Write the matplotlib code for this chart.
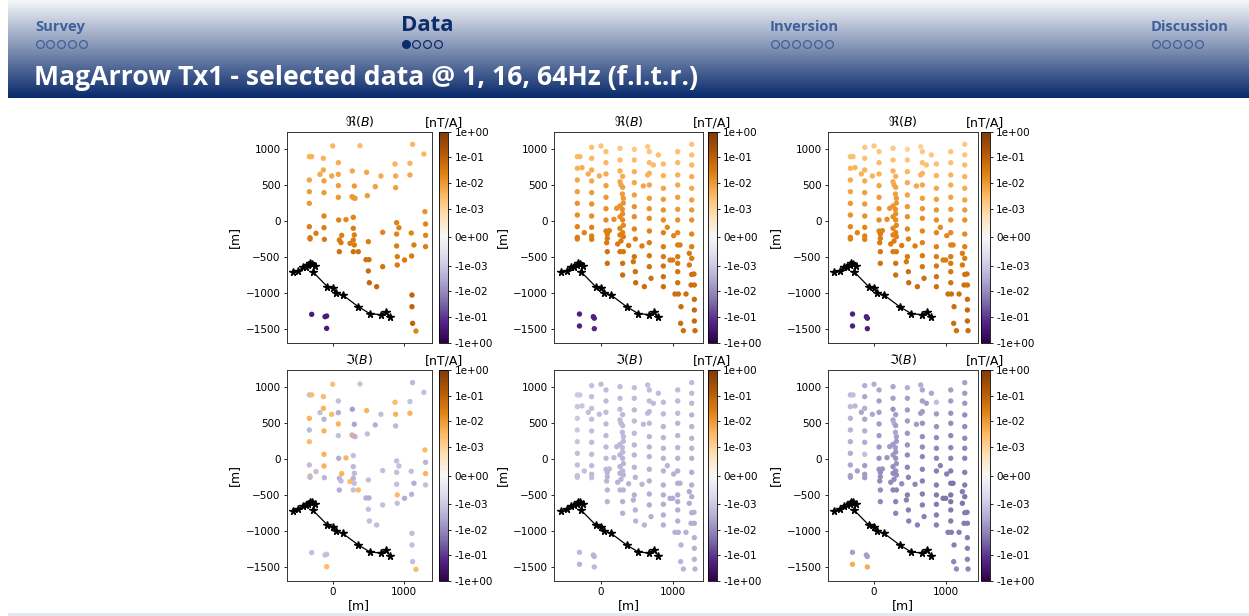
import numpy as np
import matplotlib
matplotlib.use("Agg")
import matplotlib.pyplot as plt
from matplotlib.colors import SymLogNorm
from matplotlib.lines import Line2D
from matplotlib.patches import Rectangle
import matplotlib.ticker as mticker

# ---------------- data ----------------
nav_sections = ["Survey", "Data", "Inversion", "Discussion"]
nav_counts = [5, 4, 6, 5]
nav_active = 1
slide_title = "MagArrow Tx1 - selected data @ 1, 16, 64Hz (f.l.t.r.)"

# transmitter cable
cable_x = [-558, -479, -419, -372, -339, -316, -288, -246, -279, -74, 0, 46, 140, 358, 521, 670, 739, 800]
cable_y = [-713, -695, -644, -634, -616, -588, -597, -625, -704, -912, -935, -995, -1028, -1190, -1287, -1301, -1264, -1338]

# 1 Hz stations
x1 = [-326, -293, -130, 0, 381, 79, 870, 1079, 1274, 1116,
      -326, -130, -177, -14, 79, 274, 474, 674, 879, 1079,
      -121, 79, 302, 595, -326, -121, 79, 270, 288, 312, 484, 879,
      -326, 1288, -121, 84, 186, 288,
      -326, -233, -121, 288, 126, 302, -316, -316, -116, 93, 116, 242, 288, 302, 498,
      698, 893, 925, 893, 1097, 1297, 1297, 1297, 1135, 893,
      93, 288, 358, 465, 507, 498, 698, 902, 902, 1004, 1102,
      512, 614, 1107, 1107, 1116, 1163,
      -293, -107, -84, -84]
y1 = [894, 894, 870, 1042, 1046, 810, 792, 801, 930, 1065,
      569, 708, 648, 625, 648, 695, 676, 625, 625, 639,
      556, 491, 486, 477, 407, 394, 329, 338, 324, 315, 352, 463,
      245, 130, 69, 14, 19, 51,
      -79, -171, -93, -102, -199, -194, -232, -250, -255, -264, -301, -310, -264, -333, -287,
      -157, -23, -93, -181, -167, -42, -199, -356, -333, -347,
      -426, -426, -426, -537, -537, -694, -634, -495, -611, -542, -486,
      -857, -912, -1028, -1190, -1421, -1528,
      -1296, -1329, -1319, -1491]
re_1hz = [4e-3, 4e-3, 4e-3, 3.5e-3, 3e-3, 5e-3, 4e-3, 4e-3, 3.5e-3, 3.5e-3,
          7e-3, 6e-3, 6e-3, 6.5e-3, 6.5e-3, 6e-3, 6e-3, 6e-3, 6e-3, 6e-3,
          8e-3, 9e-3, 9e-3, 8e-3, 9e-3, 9e-3, 1e-2, 1e-2, 1e-2, 1e-2, 9e-3, 8e-3,
          1e-2, 1.2e-2, 2e-2, 2e-2, 1.8e-2, 2e-2,
          2.5e-2, 2.5e-2, 2.5e-2, 2.5e-2, 2.5e-2, 2.5e-2, 3e-2, 3e-2, 3e-2, 3e-2, 3e-2, 2.5e-2, 3e-2, 3e-2, 2.5e-2,
          2e-2, 2e-2, 2e-2, 2e-2, 2e-2, 2e-2, 2e-2, 2.5e-2, 2.5e-2, 2.5e-2,
          5e-2, 4.5e-2, 4.5e-2, 4.5e-2, 4.5e-2, 6e-2, 4e-2, 2.5e-2, 3e-2, 3e-2, 3e-2,
          7e-2, 7e-2, 9e-2, 9e-2, 9e-2, 2e-2,
          -0.25, -0.25, -0.25, -0.25]
im_1hz = [-1.5e-3, 3e-3, 3e-3, 2.5e-3, -1.2e-3, -1.5e-3, 3e-3, -1.5e-3, -1.5e-3, -2e-3,
          4e-3, 4e-3, -1.5e-3, 3e-3, -3e-3, -5e-3, 4e-3, -1.5e-3, 4e-3, 4e-3,
          -2.5e-3, 4e-3, -4e-3, -3e-3, -2e-3, 4e-3, -1.5e-3, -2e-3, 5e-3, -2.5e-3, -1.5e-3, -2e-3,
          3e-3, 3e-3, 4e-3, -3e-3, 4e-3, -1.5e-3,
          -1.5e-3, -1.5e-3, 4e-3, -2e-3, 4e-3, -2e-3, 4e-3, -2e-3, -2.5e-3, -2.5e-3, -2e-3, 3e-3, -2.5e-3, -1.5e-3, -1.5e-3,
          -1.5e-3, -1.5e-3, -1.5e-3, -1.5e-3, -1.5e-3, -2.5e-3, 4e-3, -1.5e-3, -3e-3, -1.5e-3,
          -3e-3, -1.5e-3, 3e-3, -3e-3, -3e-3, -1.5e-3, -1.5e-3, 3e-3, -1.5e-3, -3e-3, -2.5e-3,
          -1.5e-3, -1.5e-3, -1.5e-3, -1.5e-3, -1.5e-3, 3e-3,
          -1.5e-3, -1.5e-3, -1.5e-3, 3e-3]

# 16 Hz / 64 Hz stations
xs = [-330, -293, -330, -265, -330, -330, -330, -330, -330, -330, -330, -233,
      -130, -130, -130, -177, -130, -130, -130, -130, -130, -130, -130,
      -23, 0, 70, 70, 70, 70, 70, 70, 70, 70, 116, 88, 88, 79, 88, 88, 181, 219,
      265, 265, 265, 265, 279, 302, 298, 312, 265, 298, 265, 302, 265, 302, 265, 312, 279, 233, 386, 265, 312, 302, 302,
      465, 465, 465, 465, 591, 465, 465, 465, 465, 479, 572, 465, 451, 479, 484, 605,
      651, 674, 674, 730, 674, 651, 674, 674, 674, 674, 674, 674, 674, 674, 698,
      800, 870, 870, 870, 870, 870, 870, 925, 870, 870, 870, 870, 870, 870,
      1070, 1070, 1070, 1070, 1070, 1070, 1070, 1014, 1070, 1070, 1102, 963, 1000, 1070, 1070, 1070, 1070, 1032, 1079, 1186, 1116, 1111, 1149,
      1265, 1265, 1265, 1265, 1265, 1265, 1265, 1265, 1265, 1265, 1232, 1265, 1232, 1297, 1265, 1256, 1302, 1302, 1302, 1302, 1311,
      -300, -300, -107, -93, -93,
      302, 312, 302, 312]
ys = [894, 894, 732, 741, 569, 407, 245, 83, -79, -227, -250, -162,
      1023, 870, 708, 653, 556, 394, 236, 69, -88, -208, -255,
      625, 1042, 963, 810, 653, 491, 329, 171, 14, -139, -134, -181, -241, -301, -426, -588, 23, 176,
      1009, 847, 695, 546, 500, 468, 375, 315, 208, 162, 60, 14, -102, -162, -194, -218, -278, -319, -340, -426, -426, -588, -750,
      995, 847, 685, 532, 486, 361, 199, 60, -111, -250, -347, -495, -565, -704, -857, -912,
      1032, 963, 810, 778, 662, 639, 500, 315, 171, 37, -139, -301, -482, -634, -796,
      917, 792, 630, 454, 301, 153, 14, -88, -162, -357, -495, -625, -773, -912,
      963, 810, 639, 500, 329, 162, 14, -204, -162, -333, -333, -542, -542, -495, -588, -704, -857, -1014, -1014, -1014, -1190, -1421, -1523,
      1065, 917, 778, 616, 454, 292, 153, 14, -181, -357, -449, -519, -611, -736, -742, -889, -889, -1088, -1236, -1389, -1523,
      -1292, -1458, -1329, -1350, -1495,
      620, 250, 100, -60]
re_16hz = [3e-3, 3.5e-3, 4.5e-3, 5e-3, 6e-3, 8e-3, 1.2e-2, 1.5e-2, 2e-2, 2.5e-2, 2.5e-2, 2e-2,
           2.5e-3, 3.5e-3, 5e-3, 5e-3, 6e-3, 9e-3, 1.2e-2, 1.5e-2, 2e-2, 2.5e-2, 2.5e-2,
           5e-3, 2e-3, 2.5e-3, 3.5e-3, 5e-3, 8e-3, 1e-2, 1.3e-2, 1.6e-2, 2.5e-2, 2.5e-2, 2.5e-2, 3e-2, 3e-2, 4e-2, 5e-2, 1.5e-2, 1.2e-2,
           2e-3, 3e-3, 4.5e-3, 6e-3, 7e-3, 8e-3, 9e-3, 1e-2, 1.2e-2, 1.3e-2, 1.5e-2, 1.6e-2, 2e-2, 2.2e-2, 2.5e-2, 2.5e-2, 3e-2, 3e-2, 3e-2, 3.5e-2, 3.5e-2, 4.5e-2, 5.5e-2,
           1.5e-3, 3e-3, 4.5e-3, 6e-3, 7e-3, 8e-3, 1.2e-2, 1.5e-2, 2e-2, 2.5e-2, 3e-2, 3.5e-2, 4e-2, 5e-2, 6e-2, 6e-2,
           1.5e-3, 2e-3, 3e-3, 3e-3, 4.5e-3, 4.5e-3, 7e-3, 9e-3, 1.2e-2, 1.5e-2, 2e-2, 2.5e-2, 3.5e-2, 4e-2, 5e-2,
           2.5e-3, 3e-3, 4.5e-3, 7e-3, 9e-3, 1.2e-2, 1.5e-2, 1.8e-2, 2e-2, 2.5e-2, 3e-2, 4e-2, 4.5e-2, 5e-2,
           2.5e-3, 3e-3, 4.5e-3, 6e-3, 8e-3, 1e-2, 1.3e-2, 2e-2, 1.8e-2, 2.5e-2, 2.5e-2, 3e-2, 3e-2, 3e-2, 3.5e-2, 4e-2, 4.5e-2, 5.5e-2, 5.5e-2, 5e-2, 6e-2, 6e-2, 5e-2,
           2e-3, 2.5e-3, 3.5e-3, 5e-3, 6e-3, 8e-3, 1e-2, 1.3e-2, 1.8e-2, 2.5e-2, 3e-2, 3e-2, 3.5e-2, 4.5e-2, 4.5e-2, 5e-2, 5e-2, 6e-2, 7e-2, 7e-2, 6e-2,
           -0.2, -0.2, -0.2, -0.2, -0.15,
           5e-3, 1.1e-2, 1.4e-2, 1.8e-2]
im_16hz = [-1e-3, -1e-3, -1.2e-3, -1.2e-3, -1e-3, -1e-3, -1.2e-3, -1.5e-3, -1.5e-3, -1.5e-3, -1.5e-3, -1.5e-3,
           -1.5e-3, -1.5e-3, -1.5e-3, -1.5e-3, -1.5e-3, -1.5e-3, -1.8e-3, -1.8e-3, -2e-3, -2e-3, -1.5e-3,
           -1.5e-3, -1.8e-3, -1.8e-3, -1.8e-3, -1.8e-3, -2e-3, -2e-3, -2e-3, -2e-3, -2e-3, -2e-3, -2.2e-3, -2.2e-3, -2.2e-3, -2.5e-3, -2.5e-3, -2e-3, -2e-3,
           -1.5e-3, -1.8e-3, -1.8e-3, -2e-3, -2e-3, -2e-3, -2e-3, -2e-3, -2e-3, -2e-3, -2.2e-3, -2.2e-3, -2.2e-3, -2.2e-3, -2.5e-3, -2.5e-3, -2.5e-3, -2.5e-3, -2.5e-3, -2.5e-3, -2.5e-3, -2.8e-3, -2.8e-3,
           -1.5e-3, -1.8e-3, -2e-3, -2e-3, -2e-3, -2e-3, -2.2e-3, -2.2e-3, -2.2e-3, -2.5e-3, -2.5e-3, -2.8e-3, -2.8e-3, -2.5e-3, -2.2e-3, -2.2e-3,
           -1.5e-3, -1.8e-3, -1.8e-3, -1.8e-3, -2e-3, -2e-3, -2e-3, -2.2e-3, -2.2e-3, -2.5e-3, -2.5e-3, -2.8e-3, -3e-3, -3e-3, -2.8e-3,
           -1.8e-3, -1.8e-3, -2e-3, -2.2e-3, -2.2e-3, -2.2e-3, -2.5e-3, -2.5e-3, -2.5e-3, -2.8e-3, -3e-3, -3.2e-3, -3e-3, -2.8e-3,
           -1.8e-3, -2e-3, -2e-3, -2.2e-3, -2.2e-3, -2.5e-3, -2.5e-3, -2.8e-3, -2.8e-3, -3e-3, -3e-3, -3.2e-3, -3.2e-3, -3.2e-3, -3.2e-3, -3e-3, -3e-3, -2.8e-3, -2.8e-3, -2.8e-3, -2.5e-3, -2.5e-3, -2.2e-3,
           -1.8e-3, -2e-3, -2e-3, -2.2e-3, -2.2e-3, -2.5e-3, -2.5e-3, -2.8e-3, -3e-3, -3e-3, -3.2e-3, -3.2e-3, -3.2e-3, -3e-3, -3e-3, -3e-3, -3e-3, -2.8e-3, -2.8e-3, -2.5e-3, -2.5e-3,
           -2e-3, -2.2e-3, -2.2e-3, -2.2e-3, -2e-3,
           -2e-3, -2e-3, -2e-3, -2.2e-3]
re_64hz = [2.5e-3, 2.5e-3, 4e-3, 4e-3, 5e-3, 7e-3, 1e-2, 1.3e-2, 1.8e-2, 2.2e-2, 2.2e-2, 2e-2,
           1.5e-3, 2.5e-3, 4e-3, 4e-3, 5e-3, 8e-3, 1e-2, 1.3e-2, 1.8e-2, 2.2e-2, 2.2e-2,
           4e-3, 1.5e-3, 2e-3, 3e-3, 4e-3, 7e-3, 9e-3, 1.2e-2, 1.5e-2, 2.2e-2, 2.2e-2, 2.5e-2, 2.8e-2, 3e-2, 3.5e-2, 4.5e-2, 1.4e-2, 1.1e-2,
           1.5e-3, 2.5e-3, 4e-3, 5e-3, 6e-3, 7e-3, 8e-3, 9e-3, 1.1e-2, 1.2e-2, 1.4e-2, 1.5e-2, 1.8e-2, 2e-2, 2.2e-2, 2.2e-2, 2.8e-2, 2.8e-2, 2.8e-2, 3.2e-2, 3.2e-2, 4e-2, 5e-2,
           1e-3, 2e-3, 3.5e-3, 5e-3, 6e-3, 7e-3, 1e-2, 1.3e-2, 1.8e-2, 2.2e-2, 2.8e-2, 3.2e-2, 3.5e-2, 4.5e-2, 5.5e-2, 5.5e-2,
           1e-3, 1.5e-3, 2.5e-3, 2.5e-3, 4e-3, 4e-3, 6e-3, 8e-3, 1.1e-2, 1.4e-2, 1.8e-2, 2.3e-2, 3e-2, 3.5e-2, 4.5e-2,
           1.5e-3, 2.5e-3, 4e-3, 6e-3, 8e-3, 1.1e-2, 1.4e-2, 1.6e-2, 1.8e-2, 2.3e-2, 2.8e-2, 3.5e-2, 4e-2, 4.5e-2,
           2e-3, 2.5e-3, 4e-3, 5e-3, 7e-3, 9e-3, 1.2e-2, 1.8e-2, 1.6e-2, 2.2e-2, 2.2e-2, 2.8e-2, 2.8e-2, 2.8e-2, 3.2e-2, 3.5e-2, 4e-2, 5e-2, 5e-2, 4.5e-2, 5.5e-2, 5.5e-2, 4.5e-2,
           1.5e-3, 2e-3, 3e-3, 4e-3, 5e-3, 7e-3, 9e-3, 1.2e-2, 1.6e-2, 2.2e-2, 2.8e-2, 2.8e-2, 3.2e-2, 4e-2, 4e-2, 4.5e-2, 4.5e-2, 5.5e-2, 6.5e-2, 6.5e-2, 5.5e-2,
           -0.2, -0.2, -0.2, -0.2, -0.2,
           4.5e-3, 1e-2, 1.3e-2, 1.6e-2]
im_64hz = [-2e-3, -1.5e-3, -2e-3, -2e-3, -2.5e-3, -2.5e-3, -3e-3, -3e-3, -4e-3, -5e-3, -5e-3, -5e-3,
           -3e-3, -4e-3, -3e-3, -4e-3, -4e-3, -3e-3, -3.5e-3, -1.5e-3, -6e-3, -6e-3, -6e-3,
           -4e-3, -3e-3, -4e-3, -5e-3, -5e-3, -6e-3, -6e-3, -7e-3, -8e-3, -8e-3, -8e-3, -9e-3, -9e-3, -1e-2, -1e-2, -1.2e-2, -7e-3, -6e-3,
           -4e-3, -5e-3, -8e-3, -4e-3, -3e-3, -5e-3, -4e-3, -5e-3, -6e-3, -6e-3, -7e-3, -8e-3, -9e-3, -9e-3, -1e-2, -1e-2, -1e-2, -1e-2, -1e-2, -1.2e-2, -1.2e-2, -1.3e-2, -1.3e-2,
           -3e-3, -5e-3, -6e-3, -6e-3, -6e-3, -7e-3, -8e-3, -1e-2, -1.2e-2, -1.2e-2, -1.2e-2, -1.5e-2, -1.5e-2, -1.5e-2, -1.4e-2, -1.4e-2,
           -3e-3, -4e-3, -5e-3, -5e-3, -6e-3, -6e-3, -8e-3, -9e-3, -1e-2, -1.2e-2, -1.3e-2, -1.5e-2, -1.6e-2, -1.6e-2, -1.5e-2,
           -4e-3, -1.5e-3, -6e-3, -8e-3, -1e-2, -1.1e-2, -1.2e-2, -1.4e-2, -1.5e-2, -1.7e-2, -1.8e-2, -1.8e-2, -1.6e-2, -1.5e-2,
           -5e-3, -6e-3, -8e-3, -1e-2, -1.1e-2, -1.2e-2, -1.4e-2, -1.6e-2, -1.6e-2, -2e-2, -2e-2, -2e-2, -2e-2, -2e-2, -2e-2, -1.8e-2, -1.8e-2, -1.6e-2, -1.6e-2, -1.5e-2, -1.4e-2, -1.2e-2, -1e-2,
           -5e-3, -6e-3, -7e-3, -9e-3, -1e-2, -1.1e-2, -1.2e-2, -1.4e-2, -1.6e-2, -1.8e-2, -1.8e-2, -2e-2, -2e-2, -1.8e-2, -1.8e-2, -1.8e-2, -1.8e-2, -1.6e-2, -1.5e-2, -1.3e-2, -1.2e-2,
           -5e-3, 5e-3, -5e-3, -5e-3, 5e-3,
           -5e-3, -6e-3, -7e-3, -8e-3]

cbar_ticks = [1, 1e-1, 1e-2, 1e-3, 0, -1e-3, -1e-2, -1e-1, -1]
y_ticks = [1000, 500, 0, -500, -1000, -1500]
x_ticks = [0, 1000]

# ---------------- layout ----------------
W, H = 1249, 616
fig = plt.figure(figsize=(W / 100, H / 100), dpi=100)
fig.patch.set_facecolor("white")


def rect(l, t, r, b):
    return [l / W, 1 - b / H, (r - l) / W, (b - t) / H]


def fxy(px, py):
    return px / W, 1 - py / H


# header gradient
hax = fig.add_axes(rect(8, 0, W, 98))
tt = np.linspace(0, 1, 256)[:, None, None]
c0 = np.array([0.965, 0.97, 0.98])
c1 = np.array([0.03, 0.16, 0.42])
grad = c0 + (c1 - c0) * tt
hax.imshow(grad, aspect="auto", extent=[0, 1, 0, 1], interpolation="bilinear")
hax.set_axis_off()

HFONT = ["Open Sans", "DejaVu Sans"]
nav_x = [35, 401, 770, 1151]
for i, (name, n, nx) in enumerate(zip(nav_sections, nav_counts, nav_x)):
    active = (i == nav_active)
    col = "#0d2c6c" if active else "#3f5f9c"
    fs = 16 if active else 10.6
    fig.text(*fxy(nx, 31), name, fontsize=fs, fontweight="bold", color=col,
             family=HFONT, va="baseline", ha="left")
    for k in range(n):
        cx = nx + 4.5 + k * 10.8
        filled = active and k == 0
        fig.add_artist(Line2D([cx / W], [1 - 44 / H], marker="o", markersize=5.6,
                              markerfacecolor=col if filled else "none",
                              markeredgecolor=col, markeredgewidth=0.9,
                              transform=fig.transFigure, linestyle="none"))

fig.text(*fxy(34, 85), slide_title, fontsize=19.2, fontweight="bold", color="white",
         family=HFONT, va="baseline", ha="left")

# bottom light line
fig.add_artist(Rectangle((8 / W, 0), 1, 3 / H, transform=fig.transFigure,
                         facecolor="#e4e7ed", edgecolor="none"))

# ---------------- panels ----------------
norm = SymLogNorm(linthresh=1e-3, linscale=1.0, vmin=-1, vmax=1, base=10)
cmap = "PuOr_r"

col_ax = [(286.7, 432.0), (554.3, 703.3), (827.7, 978.0)]
col_cb = [(439.3, 448.5), (707.5, 717.0), (980.7, 990.0)]
col_xlim = [(-642, 1387), (-651, 1427), (-646, 1450)]
row_tb = [(131.7, 342.7), (370.0, 581.0)]

panels = [
    (0, 0, x1, y1, re_1hz, r"$\Re(B)$"),
    (0, 1, xs, ys, re_16hz, r"$\Re(B)$"),
    (0, 2, xs, ys, re_64hz, r"$\Re(B)$"),
    (1, 0, x1, y1, im_1hz, r"$\Im(B)$"),
    (1, 1, xs, ys, im_16hz, r"$\Im(B)$"),
    (1, 2, xs, ys, im_64hz, r"$\Im(B)$"),
]

TICK_FS = 7.5
LAB_FS = 9

for r, c, px, py, vals, ttl in panels:
    t, b = row_tb[r]
    l, rr = col_ax[c]
    ax = fig.add_axes(rect(l, t, rr, b))
    sc = ax.scatter(px, py, c=vals, cmap=cmap, norm=norm, s=15, linewidths=0, zorder=2)
    ax.plot(cable_x, cable_y, "-", color="black", lw=0.9, marker="*", ms=5.5, zorder=3)
    ax.set_xlim(col_xlim[c])
    ax.set_ylim(-1690, 1240)
    ax.set_xticks(x_ticks)
    ax.set_yticks(y_ticks)
    ax.tick_params(labelsize=TICK_FS, length=2.5, width=0.6, pad=2)
    for sp in ax.spines.values():
        sp.set_linewidth(0.7)
        sp.set_color("#333333")
    ax.set_ylabel("[m]", fontsize=LAB_FS, labelpad=3)
    ax.set_title(ttl, fontsize=LAB_FS, pad=4)
    if r == 0:
        ax.tick_params(labelbottom=False)
    else:
        ax.set_xlabel("[m]", fontsize=LAB_FS, labelpad=1)

    cl, cr = col_cb[c]
    cax = fig.add_axes(rect(cl, t, cr, b))
    cb = fig.colorbar(sc, cax=cax, ticks=cbar_ticks,
                      format=mticker.FormatStrFormatter("%.0e"))
    cb.ax.minorticks_off()
    cb.ax.tick_params(labelsize=TICK_FS, length=2.5, width=0.6, pad=2)
    cb.outline.set_linewidth(0.6)
    cb.ax.set_title("[nT/A]", fontsize=LAB_FS, pad=4)

# right-hand crop of the last column images
fig.add_artist(Rectangle((1034 / W, 3 / H), 1, (612 - 100) / H, transform=fig.transFigure,
                         facecolor="white", edgecolor="none", zorder=10))

fig.savefig("out.png", dpi=100, facecolor="white")
